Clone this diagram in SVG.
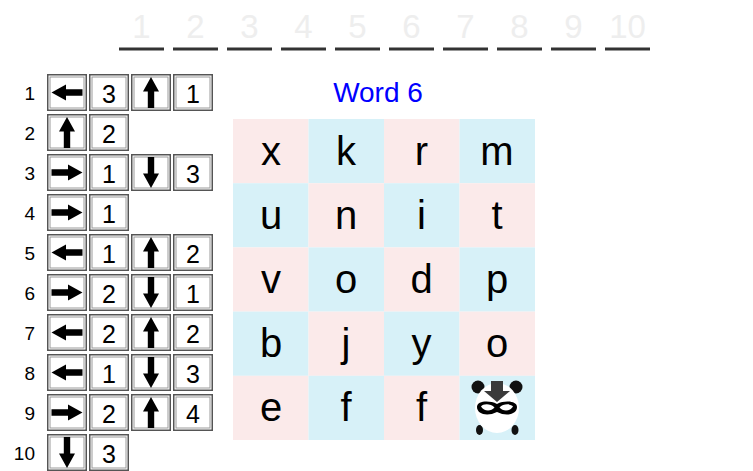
<svg xmlns="http://www.w3.org/2000/svg" xmlns:xlink="http://www.w3.org/1999/xlink" width="753" height="471" viewBox="0 0 753 471">
<style>
text{font-family:"Liberation Sans",Arial,sans-serif;}
.slot{font-size:33px;fill:#eeeeee;text-anchor:middle;}
.ul{fill:#333;}
.lbl{font-size:19px;fill:#000;text-anchor:end;}
.num{font-size:25px;fill:#000;text-anchor:middle;}
.let{font-size:40px;fill:#000;text-anchor:middle;}
.pk{fill:#fbeaea;}
.bl{fill:#d7f1f8;}
.title{font-size:28px;fill:#0000ff;text-anchor:middle;}
</style>
<defs>
<g id="box"><rect x="0.75" y="0.75" width="38.5" height="35.5" fill="#fff" stroke="#555" stroke-width="1.5"/><rect x="3" y="3" width="34" height="31" fill="none" stroke="#9a9a9a" stroke-width="1"/></g>
<path id="arr" d="M-15.5 0 L-1 -8 L-1 -3.2 L15.5 -3.2 L15.5 3.2 L-1 3.2 L-1 8 Z" fill="#000"/>
</defs>
<rect width="753" height="471" fill="#fff"/>

<g id="answer-slots">
<text class="slot" x="141.5" y="37.5">1</text>
<text class="slot" x="195.5" y="37.5">2</text>
<text class="slot" x="249.5" y="37.5">3</text>
<text class="slot" x="303.5" y="37.5">4</text>
<text class="slot" x="357.5" y="37.5">5</text>
<text class="slot" x="411.5" y="37.5">6</text>
<text class="slot" x="465.5" y="37.5">7</text>
<text class="slot" x="519.5" y="37.5">8</text>
<text class="slot" x="573.5" y="37.5">9</text>
<text class="slot" x="627.5" y="37.5">10</text>
<rect class="ul" x="119" y="47.5" width="45" height="3"/>
<rect class="ul" x="173" y="47.5" width="45" height="3"/>
<rect class="ul" x="227" y="47.5" width="45" height="3"/>
<rect class="ul" x="281" y="47.5" width="45" height="3"/>
<rect class="ul" x="335" y="47.5" width="45" height="3"/>
<rect class="ul" x="389" y="47.5" width="45" height="3"/>
<rect class="ul" x="443" y="47.5" width="45" height="3"/>
<rect class="ul" x="497" y="47.5" width="45" height="3"/>
<rect class="ul" x="551" y="47.5" width="45" height="3"/>
<rect class="ul" x="605" y="47.5" width="45" height="3"/>
</g>

<g id="clue-1">
<text class="lbl" x="35" y="99.5">1</text>
<use href="#box" x="47" y="74"/><use href="#box" x="89" y="74"/><use href="#box" x="131" y="74"/><use href="#box" x="173" y="74"/>
<use href="#arr" transform="translate(67,92.5)"/>
<text class="num" x="109" y="102.5">3</text>
<use href="#arr" transform="translate(151,92.5) rotate(90)"/>
<text class="num" x="193" y="102.5">1</text>
</g>
<g id="clue-2">
<text class="lbl" x="35" y="139.5">2</text>
<use href="#box" x="47" y="114"/><use href="#box" x="89" y="114"/>
<use href="#arr" transform="translate(67,132.5) rotate(90)"/>
<text class="num" x="109" y="142.5">2</text>
</g>
<g id="clue-3">
<text class="lbl" x="35" y="179.5">3</text>
<use href="#box" x="47" y="154"/><use href="#box" x="89" y="154"/><use href="#box" x="131" y="154"/><use href="#box" x="173" y="154"/>
<use href="#arr" transform="translate(67,172.5) rotate(180)"/>
<text class="num" x="109" y="182.5">1</text>
<use href="#arr" transform="translate(151,172.5) rotate(270)"/>
<text class="num" x="193" y="182.5">3</text>
</g>
<g id="clue-4">
<text class="lbl" x="35" y="219.5">4</text>
<use href="#box" x="47" y="194"/><use href="#box" x="89" y="194"/>
<use href="#arr" transform="translate(67,212.5) rotate(180)"/>
<text class="num" x="109" y="222.5">1</text>
</g>
<g id="clue-5">
<text class="lbl" x="35" y="259.5">5</text>
<use href="#box" x="47" y="234"/><use href="#box" x="89" y="234"/><use href="#box" x="131" y="234"/><use href="#box" x="173" y="234"/>
<use href="#arr" transform="translate(67,252.5)"/>
<text class="num" x="109" y="262.5">1</text>
<use href="#arr" transform="translate(151,252.5) rotate(90)"/>
<text class="num" x="193" y="262.5">2</text>
</g>
<g id="clue-6">
<text class="lbl" x="35" y="299.5">6</text>
<use href="#box" x="47" y="274"/><use href="#box" x="89" y="274"/><use href="#box" x="131" y="274"/><use href="#box" x="173" y="274"/>
<use href="#arr" transform="translate(67,292.5) rotate(180)"/>
<text class="num" x="109" y="302.5">2</text>
<use href="#arr" transform="translate(151,292.5) rotate(270)"/>
<text class="num" x="193" y="302.5">1</text>
</g>
<g id="clue-7">
<text class="lbl" x="35" y="339.5">7</text>
<use href="#box" x="47" y="314"/><use href="#box" x="89" y="314"/><use href="#box" x="131" y="314"/><use href="#box" x="173" y="314"/>
<use href="#arr" transform="translate(67,332.5)"/>
<text class="num" x="109" y="342.5">2</text>
<use href="#arr" transform="translate(151,332.5) rotate(90)"/>
<text class="num" x="193" y="342.5">2</text>
</g>
<g id="clue-8">
<text class="lbl" x="35" y="379.5">8</text>
<use href="#box" x="47" y="354"/><use href="#box" x="89" y="354"/><use href="#box" x="131" y="354"/><use href="#box" x="173" y="354"/>
<use href="#arr" transform="translate(67,372.5)"/>
<text class="num" x="109" y="382.5">1</text>
<use href="#arr" transform="translate(151,372.5) rotate(270)"/>
<text class="num" x="193" y="382.5">3</text>
</g>
<g id="clue-9">
<text class="lbl" x="35" y="419.5">9</text>
<use href="#box" x="47" y="394"/><use href="#box" x="89" y="394"/><use href="#box" x="131" y="394"/><use href="#box" x="173" y="394"/>
<use href="#arr" transform="translate(67,412.5) rotate(180)"/>
<text class="num" x="109" y="422.5">2</text>
<use href="#arr" transform="translate(151,412.5) rotate(90)"/>
<text class="num" x="193" y="422.5">4</text>
</g>
<g id="clue-10">
<text class="lbl" x="35" y="459.5">10</text>
<use href="#box" x="47" y="434"/><use href="#box" x="89" y="434"/>
<use href="#arr" transform="translate(67,452.5) rotate(270)"/>
<text class="num" x="109" y="462.5">3</text>
</g>

<g id="title"><text class="title" x="378" y="102">Word 6</text></g>

<g id="grid">
<g id="r0">
<rect class="pk" x="233" y="119" width="75.5" height="64.2"/><rect class="bl" x="308.5" y="119" width="75.5" height="64.2"/><rect class="pk" x="384" y="119" width="75.5" height="64.2"/><rect class="bl" x="459.5" y="119" width="75.5" height="64.2"/>
<text class="let" x="271" y="165">x</text><text class="let" x="346" y="165">k</text><text class="let" x="421.5" y="165">r</text><text class="let" x="497" y="165">m</text>
</g>
<g id="r1">
<rect class="bl" x="233" y="183.2" width="75.5" height="64.2"/><rect class="pk" x="308.5" y="183.2" width="75.5" height="64.2"/><rect class="bl" x="384" y="183.2" width="75.5" height="64.2"/><rect class="pk" x="459.5" y="183.2" width="75.5" height="64.2"/>
<text class="let" x="271" y="229">u</text><text class="let" x="346" y="229">n</text><text class="let" x="421.5" y="229">i</text><text class="let" x="497" y="229">t</text>
</g>
<g id="r2">
<rect class="pk" x="233" y="247.4" width="75.5" height="64.2"/><rect class="bl" x="308.5" y="247.4" width="75.5" height="64.2"/><rect class="pk" x="384" y="247.4" width="75.5" height="64.2"/><rect class="bl" x="459.5" y="247.4" width="75.5" height="64.2"/>
<text class="let" x="271" y="293">v</text><text class="let" x="346" y="293">o</text><text class="let" x="421.5" y="293">d</text><text class="let" x="497" y="293">p</text>
</g>
<g id="r3">
<rect class="bl" x="233" y="311.6" width="75.5" height="64.2"/><rect class="pk" x="308.5" y="311.6" width="75.5" height="64.2"/><rect class="bl" x="384" y="311.6" width="75.5" height="64.2"/><rect class="pk" x="459.5" y="311.6" width="75.5" height="64.2"/>
<text class="let" x="271" y="357">b</text><text class="let" x="346" y="357">j</text><text class="let" x="421.5" y="357">y</text><text class="let" x="497" y="357">o</text>
</g>
<g id="r4">
<rect class="pk" x="233" y="375.8" width="75.5" height="64.2"/><rect class="bl" x="308.5" y="375.8" width="75.5" height="64.2"/><rect class="pk" x="384" y="375.8" width="75.5" height="64.2"/><rect class="bl" x="459.5" y="375.8" width="75.5" height="64.2"/>
<text class="let" x="271" y="421">e</text><text class="let" x="346" y="421">f</text><text class="let" x="421.5" y="421">f</text>
</g>
</g>

<g id="panda">
<circle cx="478" cy="387" r="6.5" fill="#111"/>
<circle cx="516" cy="387" r="6.5" fill="#111"/>
<ellipse cx="479.5" cy="430" rx="3.5" ry="5" fill="#111"/>
<ellipse cx="515" cy="430" rx="3.5" ry="5" fill="#111"/>
<ellipse cx="497" cy="408" rx="22" ry="25" fill="#fff"/>
<path d="M491 381 L503 381 L503 391 L510 391 L497 402 L484 391 L491 391 Z" fill="#3a3a3a"/>
<path d="M477 407 C477 401 489 400 497 404 C505 400 517 401 517 407 C517 414 507 417 497 412 C487 417 477 414 477 407 Z" fill="#000"/>
<path d="M481 406.5 C483 403.5 491 403.5 494.5 407.5 C491 411.5 484 411.5 481 406.5 Z" fill="#fff"/>
<path d="M513 406.5 C511 403.5 503 403.5 499.5 407.5 C503 411.5 510 411.5 513 406.5 Z" fill="#fff"/>
</g>
</svg>
